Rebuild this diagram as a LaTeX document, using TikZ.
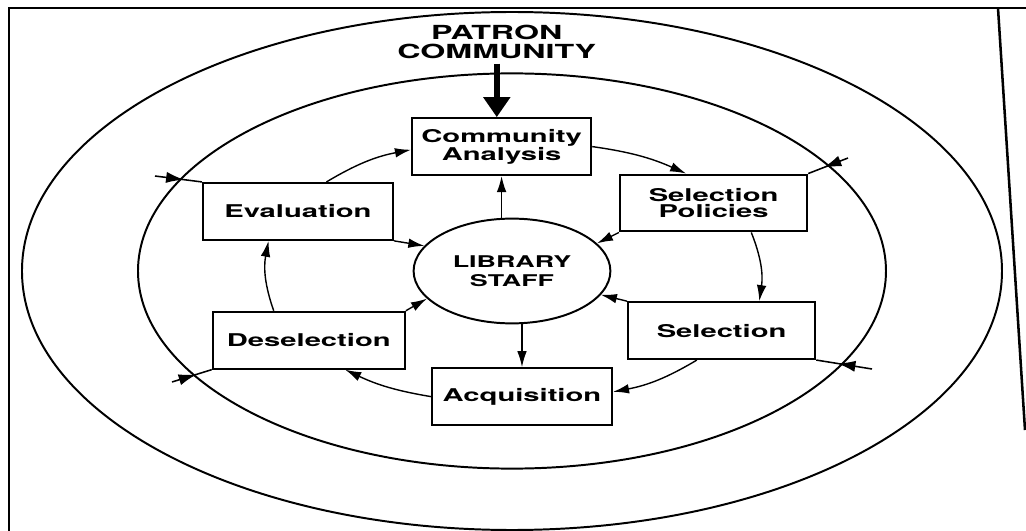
\documentclass[tikz,border=0pt]{standalone}
\usepackage{fontspec}
\setmainfont{TeX Gyre Heros}[FakeStretch=1.66]
\usetikzlibrary{arrows.meta,shapes.geometric,decorations.markings}

\begin{document}
\begin{tikzpicture}[
    stage/.style={draw, line width=1.5pt, minimum height=1.42cm, align=center,
      font=\fontsize{12.5}{11.7}\selectfont\bfseries},
    ring/.style={line width=1.4pt},
    frame/.style={line width=1.8pt},
    flow/.style={line width=1pt, -{Latex[length=4mm,width=2.4mm]}},
    inflow/.style={line width=1.1pt, postaction={decorate},
      decoration={markings, mark=at position 0.62 with {\arrow{Latex[length=4.5mm,width=2.8mm]}}}},
  ]
		\useasboundingbox (-12.8,-6.5) rectangle (12.85,6.775);

		% Page frame (left, top and the slanted right edge).
		\draw[frame] (12.85,6.575) -- (-12.575,6.575) -- (-12.575,-6.5);
		\draw[frame] (12.15,6.575) -- (12.825,-3.975);

		% Community rings.
		\draw[ring] (0,0) ellipse [x radius=12.25, y radius=6.475]; % outer
		\draw[ring] (0,0) ellipse [x radius=9.35, y radius=4.94];   % middle

		% STAFF
		\node[ellipse, draw, line width=1.4pt, minimum width=4.92cm, minimum height=2.62cm,
		  align=center, font=\fontsize{11.5}{13.2}\selectfont\bfseries] (library staff) at (0,0) {LIBRARY\\STAFF};

		% PATRONS
		\node[align=center, font=\fontsize{13.8}{13.5}\selectfont\bfseries] (patron) at (-0.38,5.73) {PATRON\\COMMUNITY};

		% STAGES
		\node[stage, minimum width=4.48cm] (community analysis) at (-0.26,3.11) {Community\\Analysis};
		\node[stage, minimum width=4.68cm] (selection policies) at (5.04,1.70)  {Selection\\Policies};
		\node[stage, minimum width=4.68cm] (selection)          at (5.24,-1.49) {Selection};
		\node[stage, minimum width=4.5cm]  (acquisition)        at (0.25,-3.14) {Acquisition};
		\node[stage, minimum width=4.8cm]  (deselection)        at (-5.08,-1.73) {Deselection};
		\node[stage, minimum width=4.75cm] (evaluation)         at (-5.35,1.49) {Evaluation};

		% Patron input.
		\draw[line width=4.5pt, -{Triangle[length=5mm,width=6.5mm]}] (patron.south) -- (patron.south |- community analysis.north);

		% Cycle of stages.
		\draw[flow] (community analysis.east) to[bend left=8] (selection policies.133);
		\draw[flow] (selection policies.-38) to[bend left=15] (selection.38);
		\draw[flow] (selection.230) to[bend left=10] (acquisition.3);
		\draw[flow] (acquisition.west) to[bend left=8] (deselection.-39);
		\draw[flow] (deselection.140) to[bend left=15] (evaluation.225);
		\draw[flow] (evaluation.46) to[bend left=10] (community analysis.182);

		% Staff links.
		\draw[flow] (community analysis.south |- library staff.north) -- (community analysis.south);
		\draw[flow] (acquisition.north |- library staff.south) -- (acquisition.north);
		\draw[flow] (evaluation.south east) -- (library staff.164);
		\draw[flow] (selection policies.south west) -- (library staff.18);
		\draw[flow] (selection.north west) -- (library staff.-15);
		\draw[flow] (deselection.north east) -- (library staff.198);

		% Inputs through the middle ring.
		\coordinate (evaluation in)  at (-8.925,2.375);
		\coordinate (policies in)    at (8.4,2.825);
		\coordinate (selection in)   at (9.0,-2.45);
		\coordinate (deselection in) at (-8.5,-2.775);
		\draw[inflow] (evaluation in) -- (evaluation.north west);
		\draw[inflow] (policies in) -- (selection policies.north east);
		\draw[inflow] (selection in) -- (selection.south east);
		\draw[inflow] (deselection in) -- (deselection.south west);

	\end{tikzpicture}
\end{document}
